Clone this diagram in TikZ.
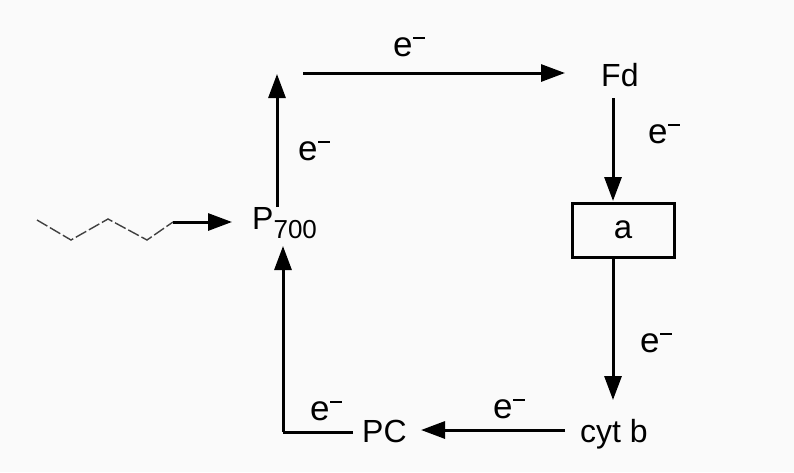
\documentclass[tikz,border=0pt]{standalone}
\usepackage{fontspec}
\setmainfont{Liberation Sans}
\usetikzlibrary{arrows.meta}
\newcommand{\elec}{e\hspace{0.5pt}\rule[17.5pt]{12pt}{1.8pt}}
\begin{document}
\begin{tikzpicture}[x=1pt,y=-1pt,
  lbl/.style={font=\fontsize{32}{36}\selectfont, inner sep=0pt},
  elbl/.style={font=\fontsize{35}{38}\selectfont, inner sep=0pt},
  arr/.style={line width=3pt, -{Triangle[length=24pt,width=17pt]}},
  ln/.style={line width=3pt},
  boxa/.style={draw, line width=3pt, minimum width=102pt, minimum height=54pt, inner sep=0pt, font=\fontsize{33}{36}\selectfont},
  zig/.style={line width=1.4pt, black!75, dash pattern=on 12pt off 3pt}]
\fill[black!2] (0,0) rectangle (794,472);
\useasboundingbox (0,0) rectangle (794,472);
% nodes
\node[lbl, anchor=base west] (p700) at (252,229) {P\raisebox{-0.3em}{\fontsize{26}{28}\selectfont 700}};
\node[lbl, anchor=base west] (fd) at (601,86) {Fd};
\node[boxa] (a) at (623,230) {a};
\node[lbl, anchor=base west] (cytb) at (580,442) {cyt b};
\node[lbl, anchor=base west] (pc) at (362,442) {PC};
% helper coordinates
\coordinate (upbot) at (277,207);
\coordinate (uptop) at (277,74);
\coordinate (hstart) at (303,73);
\coordinate (fdw) at (565,73);
\coordinate (fdbot) at (613,98);
\coordinate (atop) at (613,201);
\coordinate (abot) at (613,259);
\coordinate (cyttop) at (613,400);
\coordinate (cytw) at (565,430);
\coordinate (pce) at (421,430);
\coordinate (pcw) at (353,432);
\coordinate (corner) at (283,432);
\coordinate (p7bot) at (283,246);
\coordinate (z1) at (37,220);
\coordinate (z2) at (71,240);
\coordinate (z3) at (108,219);
\coordinate (z4) at (147,240);
\coordinate (z5) at (173,222);
\coordinate (p7w) at (232,222);
% connectors
\draw[zig] (z1) -- (z2) -- (z3) -- (z4) -- (z5);
\draw[arr] (z5) -- (p7w);
\draw[arr] (upbot) -- (uptop);
\draw[arr] (hstart) -- (fdw);
\draw[arr] (fdbot) -- (atop);
\draw[arr] (abot) -- (cyttop);
\draw[arr] (cytw) -- (pce);
\draw[ln] (pcw) -- (corner);
\draw[arr] (corner) -- (p7bot);
% labels
\node[elbl, anchor=base west] (e1) at (393,56) {\elec};
\node[elbl, anchor=base west] (e2) at (298,160) {\elec};
\node[elbl, anchor=base west] (e3) at (648,143) {\elec};
\node[elbl, anchor=base west] (e4) at (640,352) {\elec};
\node[elbl, anchor=base west] (e5) at (493,418) {\elec};
\node[elbl, anchor=base west] (e6) at (310,420) {\elec};
\end{tikzpicture}
\end{document}
